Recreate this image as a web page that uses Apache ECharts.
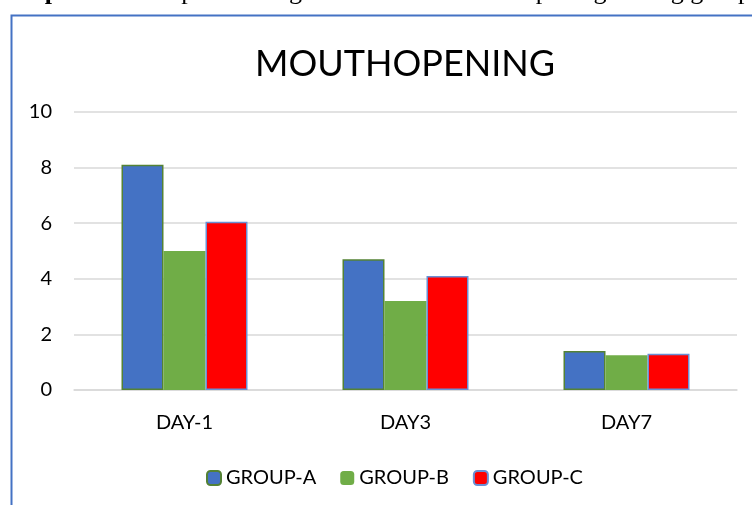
<!DOCTYPE html>
<html>
<head>
<meta charset="utf-8">
<title>MOUTHOPENING</title>
<script src="https://cdn.jsdelivr.net/npm/echarts@6/dist/echarts.min.js"></script>
<style>
  html, body { margin: 0; padding: 0; background: #fff; }
  #chart { width: 752px; height: 505px; }
</style>
</head>
<body>
<div id="chart"></div>
<script>
// data
var days = ['DAY-1', 'DAY3', 'DAY7'];
var groupA = [8.1, 4.7, 1.4];
var groupB = [5.0, 3.2, 1.25];
var groupC = [6.05, 4.1, 1.3];
var groupNames = ['GROUP-A', 'GROUP-B', 'GROUP-C'];

var font = 'Lato';
var myChart = echarts.init(document.getElementById('chart'));

var option = {
  backgroundColor: '#fff',
  animation: false,
  title: {
    text: 'MOUTHOPENING',
    left: 400,
    top: 41,
    textAlign: 'center',
    textStyle: { fontFamily: font, fontSize: 36, fontWeight: 'normal', color: '#000' }
  },
  legend: {
    data: groupNames,
    left: 201,
    top: 463,
    itemWidth: 14,
    itemHeight: 14,
    itemGap: 24,
    textStyle: { fontFamily: font, fontSize: 20, color: '#000' }
  },
  grid: { left: 74, right: 15, top: 112, bottom: 115 },
  xAxis: {
    type: 'category',
    data: days,
    axisLine: { lineStyle: { color: '#d9d9d9', width: 1.5 } },
    axisTick: { show: false },
    axisLabel: { fontFamily: font, fontSize: 20, color: '#000', margin: 23 }
  },
  yAxis: {
    type: 'value',
    min: 0,
    max: 10,
    interval: 2,
    axisLine: { show: false },
    axisTick: { show: false },
    splitLine: { lineStyle: { color: '#d9d9d9', width: 1.5 } },
    axisLabel: { fontFamily: font, fontSize: 20, color: '#000', margin: 22 }
  },
  series: [
    {
      name: groupNames[0], type: 'bar', data: groupA,
      barWidth: 42, barGap: '0%',
      itemStyle: { color: '#4472C4', borderColor: '#548235', borderWidth: 1.5 }
    },
    {
      name: groupNames[1], type: 'bar', data: groupB,
      barWidth: 42,
      itemStyle: { color: '#70AD47' }
    },
    {
      name: groupNames[2], type: 'bar', data: groupC,
      barWidth: 42,
      itemStyle: { color: '#FF0000', borderColor: '#6A8FD4', borderWidth: 1.5 }
    }
  ],
  graphic: [
    // chart frame (only top and left edges show in the crop)
    {
      type: 'rect', left: 9, top: 13, z: -1, silent: true,
      shape: { width: 900, height: 700 },
      style: { fill: 'none', stroke: '#4472C4', lineWidth: 2 }
    },
    // document caption, cut off at the top of the picture
    {
      type: 'text', x: 0, y: -8, silent: true,
      style: {
        text: '{b|Graph no 3:} Graph showing the restricted mouth opening among groups',
        fontFamily: '"Liberation Serif", "Times New Roman", serif',
        fontSize: 26, fill: '#000', verticalAlign: 'middle',
        rich: { b: { fontWeight: 'bold', fontFamily: '"Liberation Serif", serif', fontSize: 26 } }
      }
    }
  ]
};

myChart.setOption(option);
</script>
</body>
</html>
